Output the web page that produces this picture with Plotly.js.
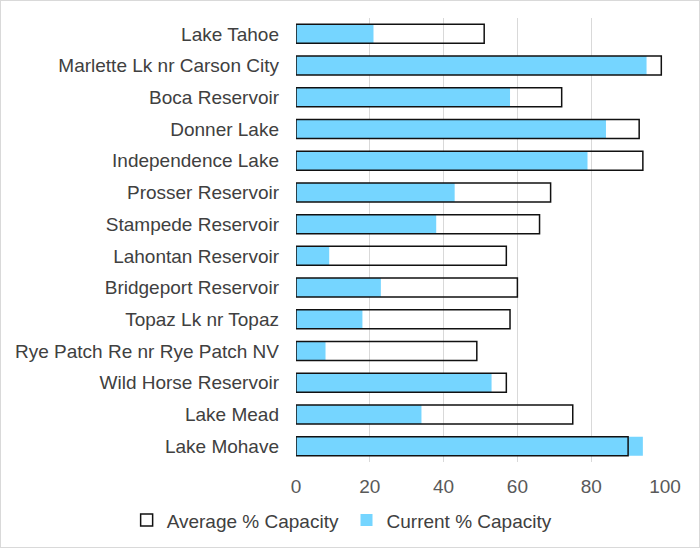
<!DOCTYPE html>
<html>
<head>
<meta charset="utf-8">
<script src="https://cdn.plot.ly/plotly-3.0.1.min.js"></script>
<style>
  body { margin: 0; background: #fff; }
  #chart { width: 698px; height: 546px; border: 1px solid #d9d9d9; }
</style>
</head>
<body>
<div id="chart"></div>
<script>
// reservoirs, top to bottom
var reservoirs = [
    'Lake Tahoe',
    'Marlette Lk nr Carson City',
    'Boca Reservoir',
    'Donner Lake',
    'Independence Lake',
    'Prosser Reservoir',
    'Stampede Reservoir',
    'Lahontan Reservoir',
    'Bridgeport Reservoir',
    'Topaz Lk nr Topaz',
    'Rye Patch Re nr Rye Patch NV',
    'Wild Horse Reservoir',
    'Lake Mead',
    'Lake Mohave'
];

var averageCapacity = [51, 99, 72, 93, 94, 69, 66, 57, 60, 58, 49, 57, 75, 90];
var currentCapacity = [21, 95, 58, 84, 79, 43, 38, 9, 23, 18, 8, 53, 34, 94];

var xTicks = [0, 20, 40, 60, 80, 100];

var current = {
    type: 'bar',
    orientation: 'h',
    name: 'Current % Capacity',
    y: reservoirs,
    x: currentCapacity,
    width: 0.6,
    marker: {color: '#75d5ff', line: {width: 0}},
    legend: 'legend2'
};

// outline only, drawn over the blue bars
var average = {
    type: 'bar',
    orientation: 'h',
    name: 'Average % Capacity',
    y: reservoirs,
    x: averageCapacity,
    width: 0.6,
    marker: {color: 'rgba(255,255,255,0)', line: {color: '#111111', width: 1.5}},
    legend: 'legend'
};

var legendFont = {color: '#404040', size: 19};

var layout = {
    width: 698,
    height: 546,
    barmode: 'overlay',
    paper_bgcolor: '#ffffff',
    plot_bgcolor: '#ffffff',
    font: {family: '"Liberation Sans", Arial, sans-serif', size: 19, color: '#404040'},
    margin: {l: 295, r: 34, t: 17, b: 85},
    xaxis: {
        range: [0, 100],
        tickvals: xTicks,
        showgrid: true,
        gridcolor: '#d9d9d9',
        gridwidth: 1,
        zeroline: false,
        showline: false,
        ticks: '',
        ticklabelstandoff: 11,
        automargin: false,
        tickfont: {color: '#595959', size: 19}
    },
    yaxis: {
        autorange: 'reversed',
        showgrid: false,
        zeroline: false,
        showline: false,
        ticks: '',
        ticklen: 0,
        ticklabelstandoff: 16,
        automargin: false,
        tickfont: {color: '#404040', size: 19}
    },
    showlegend: true,
    // two legends so the items sit on one row under the chart
    legend: {
        orientation: 'h',
        xref: 'container', x: 0.18, xanchor: 'left',
        yref: 'container', y: 0.049, yanchor: 'middle',
        itemwidth: 30,
        font: legendFont
    },
    legend2: {
        orientation: 'h',
        xref: 'container', x: 0.495, xanchor: 'left',
        yref: 'container', y: 0.049, yanchor: 'middle',
        itemwidth: 30,
        font: legendFont
    }
};

Plotly.newPlot('chart', [current, average], layout, {displayModeBar: false, staticPlot: true});
</script>
</body>
</html>
